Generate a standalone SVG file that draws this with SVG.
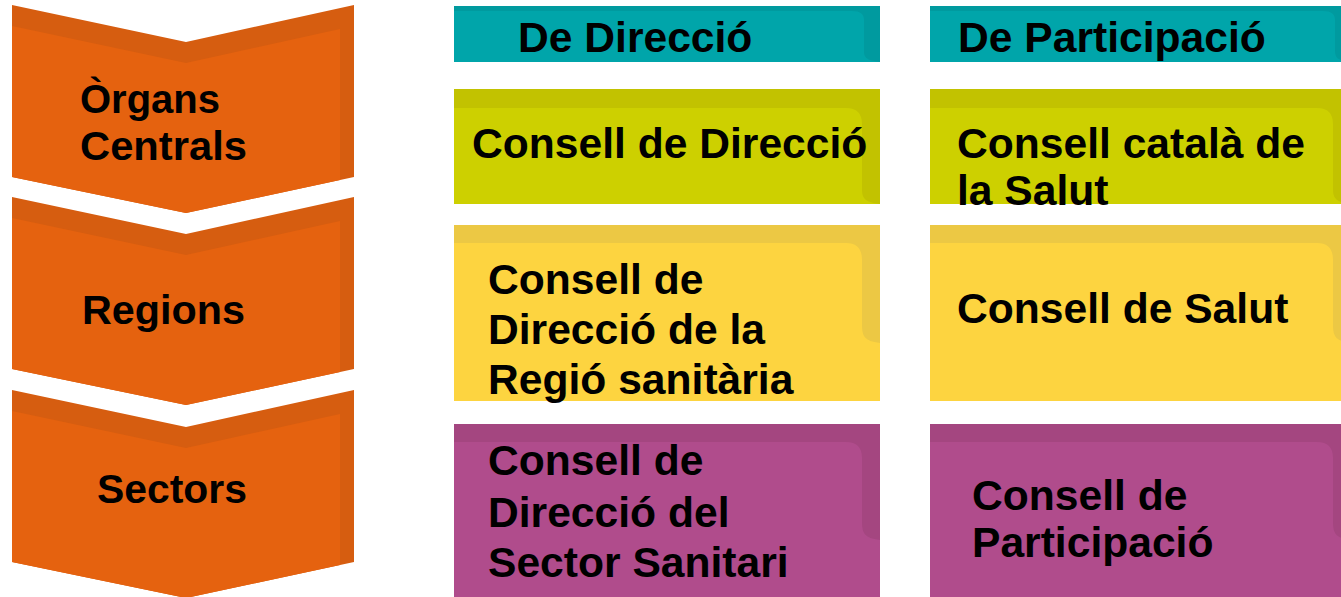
<svg xmlns="http://www.w3.org/2000/svg" width="1341" height="597" viewBox="0 0 1341 597">
<style>
text{font-family:"Liberation Sans",Arial,sans-serif;font-weight:bold;fill:#000}
.lbl{font-size:40px}
.t{font-size:42.6px}
.or{fill:#D65D10}.orl{fill:#E5620F}
.teal{fill:#00A5AA}.teald{fill:#009A9F}
.lime{fill:#CDD000}.limed{fill:#C2C200}
.yel{fill:#FDD440}.yeld{fill:#ECC844}
.mag{fill:#B04C8C}.magd{fill:#A44680}
</style>
<rect width="1341" height="597" fill="#fff"/>
<g id="levels">
<g id="organs-centrals">
<path class="or" d="M12,5 L186,42 L354,5 L354,177 L186,213 L12,177 Z"/>
<path class="orl" d="M12,26 L186,63 L340,29 L340,180 L186,213 L12,177 Z"/>
<text class="lbl"><tspan x="80" y="113" textLength="140" lengthAdjust="spacingAndGlyphs">Òrgans</tspan><tspan x="80" y="160" textLength="167" lengthAdjust="spacingAndGlyphs">Centrals</tspan></text>
</g>
<g id="regions">
<path class="or" d="M12,197 L186,234 L354,197 L354,369 L186,405 L12,369 Z"/>
<path class="orl" d="M12,218 L186,255 L340,221 L340,372 L186,405 L12,369 Z"/>
<text class="lbl" x="82" y="324" textLength="163" lengthAdjust="spacingAndGlyphs">Regions</text>
</g>
<g id="sectors">
<path class="or" d="M12,390 L186,427 L354,390 L354,562 L186,598 L12,562 Z"/>
<path class="orl" d="M12,411 L186,448 L340,414 L340,565 L186,598 L12,562 Z"/>
<text class="lbl" x="97" y="503" textLength="150" lengthAdjust="spacingAndGlyphs">Sectors</text>
</g>
</g>
<g id="header-direccio">
<rect class="teal" x="454" y="6" width="426" height="56"/>
<path class="teald" d="M454,6 H880 V62 C866,60 864,58 864,50 V20 Q864,11 852,11 H454 Z"/>
<text class="t" x="518" y="52">De Direcció</text>
</g>
<g id="header-participacio">
<rect class="teal" x="930" y="6" width="421" height="56"/>
<path class="teald" d="M930,6 H1351 V62 C1337,60 1335,58 1335,50 V20 Q1335,11 1323,11 H930 Z"/>
<text class="t" x="958" y="52">De Participació</text>
</g>
<g id="consell-direccio">
<rect class="lime" x="454" y="89" width="426" height="115"/>
<path class="limed" d="M454,89 H880 V204 C864,202 862,198 862,188 V124 Q862,108 846,108 H454 Z"/>
<text class="t" x="472" y="158">Consell de Direcció</text>
</g>
<g id="consell-catala">
<rect class="lime" x="930" y="89" width="421" height="115"/>
<path class="limed" d="M930,89 H1351 V204 C1335,202 1333,198 1333,188 V124 Q1333,108 1317,108 H930 Z"/>
<text class="t"><tspan x="957" y="158">Consell català de</tspan><tspan x="957" y="205">la Salut</tspan></text>
</g>
<g id="consell-direccio-regio">
<rect class="yel" x="454" y="225" width="426" height="176"/>
<path class="yeld" d="M454,225 H880 V343 C864,341 862,336 862,324 V260 Q862,243 846,243 H454 Z"/>
<text class="t"><tspan x="488" y="294">Consell de</tspan><tspan x="488" y="344">Direcció de la</tspan><tspan x="488" y="394">Regió sanitària</tspan></text>
</g>
<g id="consell-salut">
<rect class="yel" x="930" y="225" width="421" height="176"/>
<path class="yeld" d="M930,225 H1351 V343 C1335,341 1333,336 1333,324 V260 Q1333,243 1317,243 H930 Z"/>
<text class="t" x="957" y="323">Consell de Salut</text>
</g>
<g id="consell-direccio-sector">
<rect class="mag" x="454" y="424" width="426" height="173"/>
<path class="magd" d="M454,424 H880 V540 C864,538 862,533 862,521 V458 Q862,442 846,442 H454 Z"/>
<text class="t"><tspan x="488" y="475">Consell de</tspan><tspan x="488" y="527">Direcció del</tspan><tspan x="488" y="577">Sector Sanitari</tspan></text>
</g>
<g id="consell-participacio">
<rect class="mag" x="930" y="424" width="421" height="173"/>
<path class="magd" d="M930,424 H1351 V540 C1335,538 1333,533 1333,521 V458 Q1333,442 1317,442 H930 Z"/>
<text class="t"><tspan x="972" y="510">Consell de</tspan><tspan x="972" y="557">Participació</tspan></text>
</g>
<g id="connectors"/>
</svg>
